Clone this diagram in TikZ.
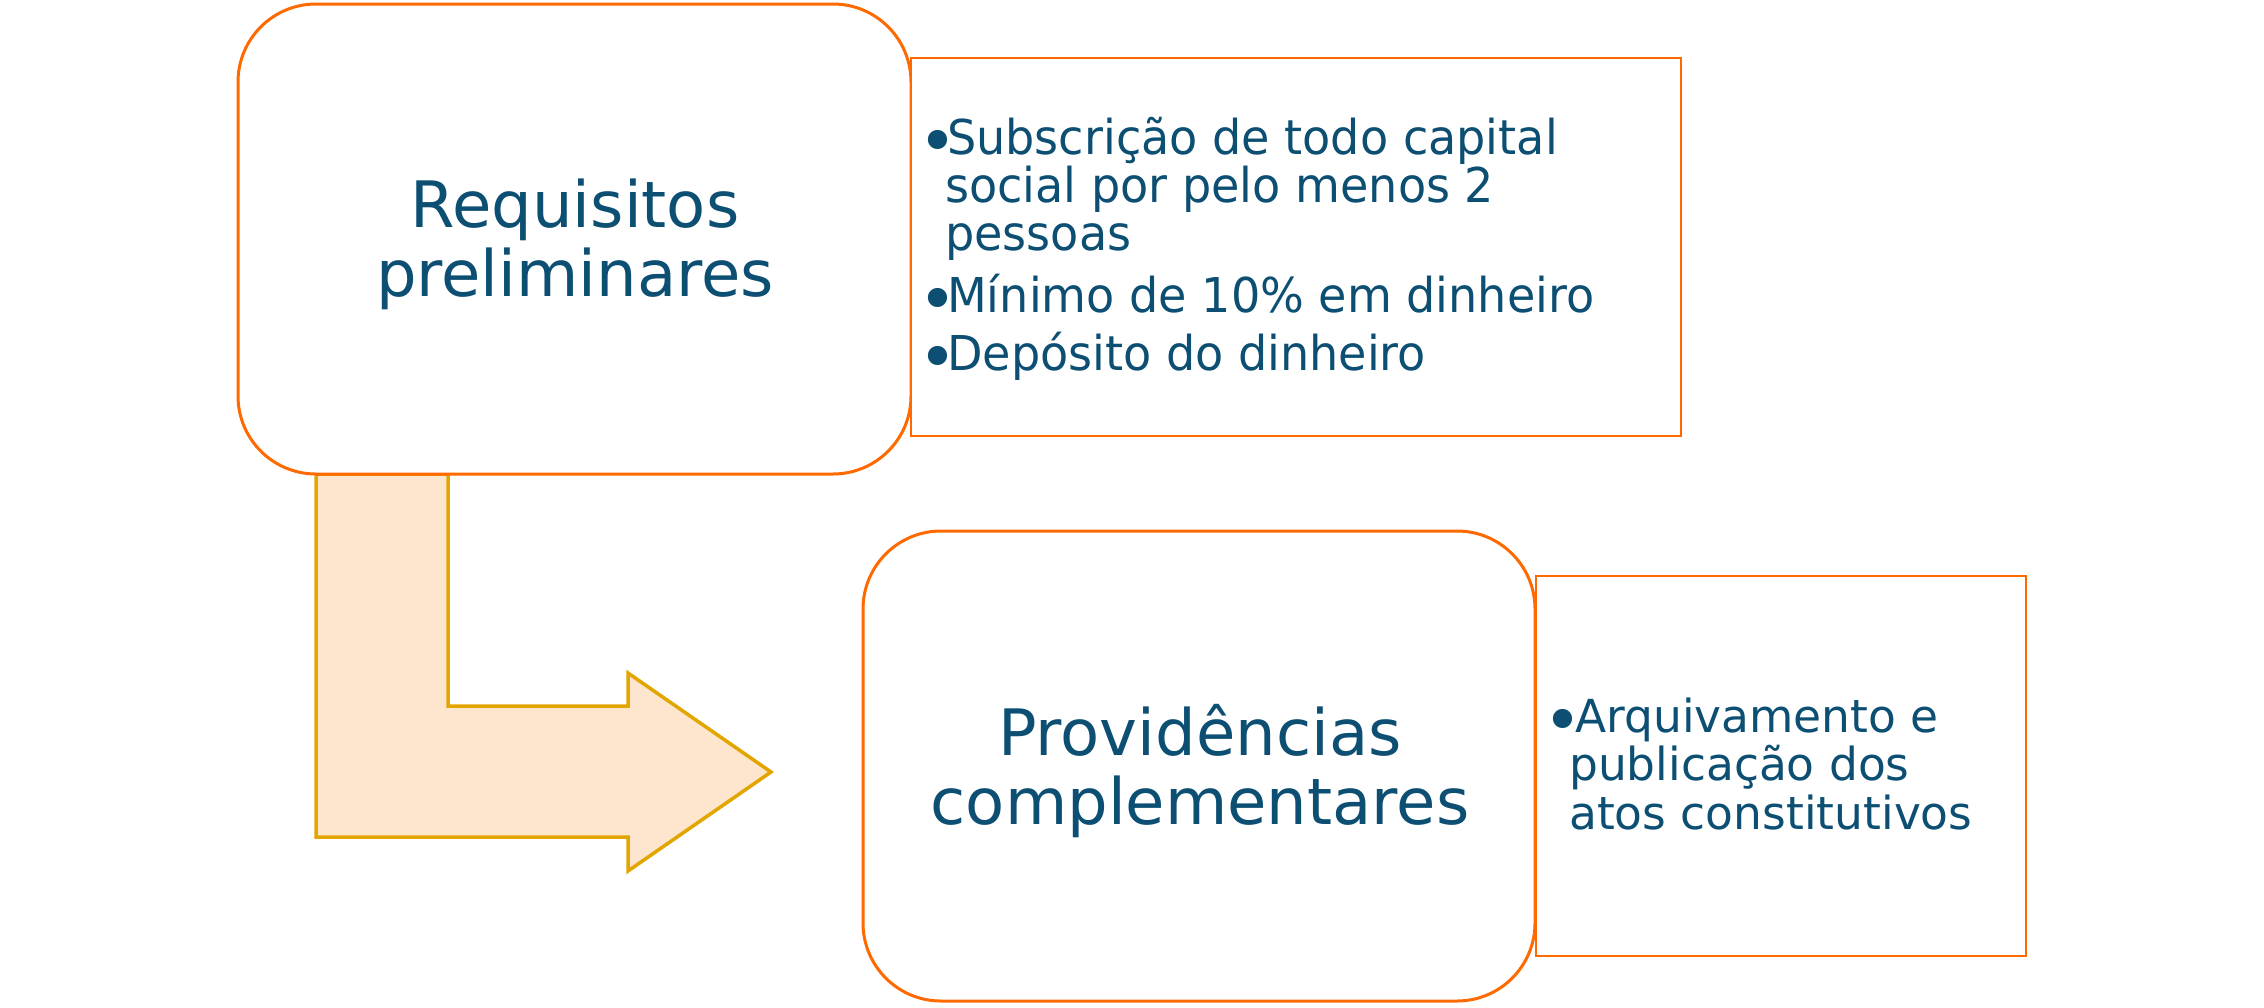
\documentclass[tikz,border=0pt]{standalone}
\usepackage{fontspec}
\setmainfont{DejaVu Sans}
\newfontfamily\condfont[FakeStretch=0.96]{DejaVu Sans}
\definecolor{tblue}{HTML}{0C4F73}
\definecolor{orangeline}{HTML}{FF6A00}
\definecolor{arrowfill}{HTML}{FDE6CD}
\definecolor{arrowline}{HTML}{E3A500}
\newcommand{\mybul}[2]{\hspace*{-#1}\makebox[0pt]{\fontspec{DejaVu Sans}\fontsize{66}{66}\selectfont\raisebox{#2}{•}}\hspace*{#1}}
\begin{document}
\begin{tikzpicture}[x=1pt,y=-1pt,
  rbox/.style={draw=orangeline, line width=3pt, fill=white, rounded corners=78pt, inner sep=0pt},
  sbox/.style={draw=orangeline, line width=2.5pt, fill=white, inner sep=0pt},
  bigarrow/.style={draw=arrowline, line width=3.5pt, fill=arrowfill, line join=miter},
  title/.style={text=tblue, font=\fontsize{64}{69}\selectfont, inner sep=0pt, anchor=base},
  itemA/.style={text=tblue, font=\condfont\fontsize{48}{48}\selectfont, inner sep=0pt, anchor=base west},
  itemB/.style={text=tblue, font=\fontsize{45.5}{48}\selectfont, inner sep=0pt, anchor=base west}
]
\useasboundingbox (0,0) rectangle (2264,1007);
\fill[white] (0,0) rectangle (2264,1007);

% bent arrow
\draw[bigarrow] (316,474) -- (316,837) -- (628,837) -- (628,871) -- (771,772)
  -- (628,673) -- (628,706) -- (448,706) -- (448,474) -- cycle;

% boxes
\node[rbox, minimum width=673pt, minimum height=470pt] (box1) at (574.5,239) {};
\node[sbox, minimum width=770pt, minimum height=378pt] (rect1) at (1296,247) {};
\node[rbox, minimum width=672pt, minimum height=470pt] (box2) at (1199,766) {};
\node[sbox, minimum width=490pt, minimum height=380pt] (rect2) at (1781,766) {};

% titles
\node[title] (t1a) at (575,227) {Requisitos};
\node[title] (t1b) at (575,296) {preliminares};
\node[title] (t2a) at (1200,755) {Providências};
\node[title] (t2b) at (1200,824) {complementares};

% items of rect1
\node[itemA] (i1a) at (947,154.5) {\mybul{9pt}{-10pt}Subscrição de todo capital};
\node[itemA] (i1b) at (945,202) {social por pelo menos 2};
\node[itemA] (i1c) at (945,250) {pessoas};
\node[itemA] (i2) at (947,312) {\mybul{9pt}{-10pt}Mínimo de 10\% em dinheiro};
\node[itemA] (i3) at (947,370) {\mybul{9pt}{-10pt}Depósito do dinheiro};

% items of rect2
\node[itemB] (i4a) at (1575,732) {\mybul{12pt}{-11pt}Arquivamento e};
\node[itemB] (i4b) at (1569,780) {publicação dos};
\node[itemB] (i4c) at (1569,829) {atos constitutivos};
\end{tikzpicture}
\end{document}
